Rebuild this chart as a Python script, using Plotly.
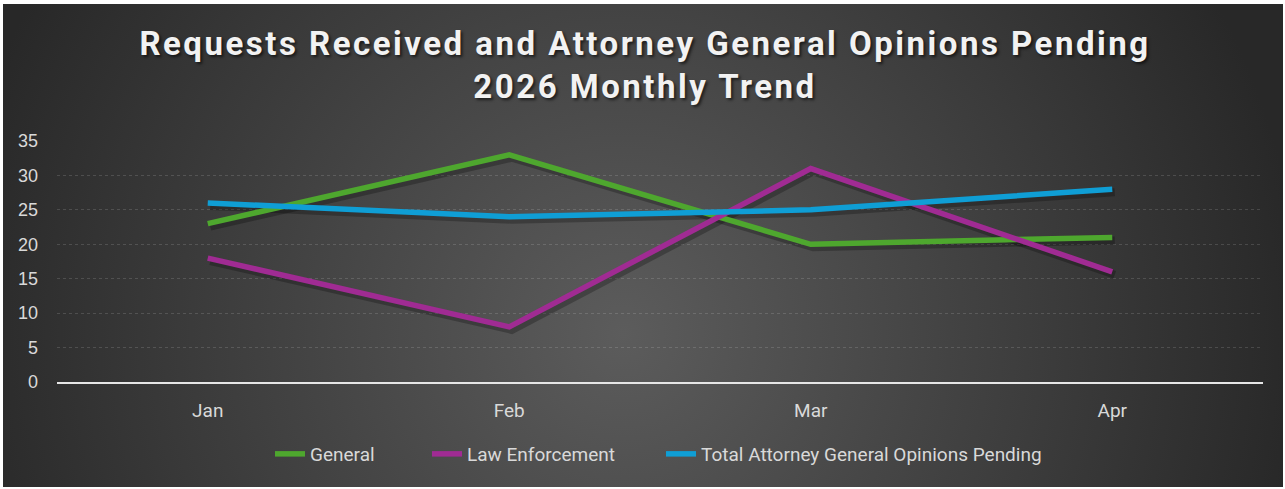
import base64
import plotly.graph_objects as go

# Monthly counts
months = ["Jan", "Feb", "Mar", "Apr"]
general = [23, 33, 20, 21]
law_enforcement = [18, 8, 31, 16]
total_pending = [26, 24, 25, 28]

series_names = ["General", "Law Enforcement", "Total Attorney General Opinions Pending"]
series_values = [general, law_enforcement, total_pending]
series_colors = ["#4EA72E", "#A02B93", "#0F9ED5"]

y_ticks = [0, 5, 10, 15, 20, 25, 30, 35]

W, H = 1285, 489
ML, MR, MT, MB = 57, 22, 141, 107
PW, PH = W - ML - MR, H - MT - MB

# dark radial backdrop for the chart card
svg = f"""<svg xmlns='http://www.w3.org/2000/svg' width='1280' height='483' viewBox='0 0 1280 483' preserveAspectRatio='none'>
<defs><radialGradient id='g' gradientUnits='userSpaceOnUse' cx='620' cy='330' r='680'>
<stop offset='0' stop-color='#5c5c5c'/><stop offset='1' stop-color='#282828'/>
</radialGradient></defs><rect width='1280' height='483' fill='url(#g)'/></svg>"""
bg_src = "data:image/svg+xml;base64," + base64.b64encode(svg.encode()).decode()

fig = go.Figure()

# soft drop shadows drawn on a slightly offset hidden axis pair
dx = 2.5 / (PW / 4)
dy = 3.0 / (PH / 35)
for vals in series_values:
    fig.add_trace(go.Scatter(
        x=months, y=vals, mode="lines", xaxis="x", yaxis="y",
        line=dict(color="rgba(0,0,0,0.25)", width=8), showlegend=False, hoverinfo="skip",
    ))

# one legend per series so each entry sits at its own spot
legend_text_x = [312, 469, 703]
legend_ids = ["legend", "legend2", "legend3"]

for name, vals, color, lid in zip(series_names, series_values, series_colors, legend_ids):
    fig.add_trace(go.Scatter(
        x=months, y=vals, mode="lines", name=name, xaxis="x2", yaxis="y2",
        line=dict(color=color, width=5.5), legend=lid,
    ))

tick_font = dict(family="Liberation Sans, Arial, sans-serif", size=18, color="#d9d9d9")
label_font = dict(family="Liberation Sans Narrow, Roboto, sans-serif", size=19, color="#d9d9d9")

legend_y = -(454 - (H - MB)) / PH
legends = {}
for lid, tx in zip(legend_ids, legend_text_x):
    legends[lid] = dict(
        orientation="h", x=(tx - 42 - ML) / PW, xanchor="left",
        y=legend_y, yanchor="middle",
        font=label_font, bgcolor="rgba(0,0,0,0)",
    )

fig.update_layout(
    width=W, height=H,
    margin=dict(l=ML, r=MR, t=MT, b=MB),
    paper_bgcolor="white",
    plot_bgcolor="rgba(0,0,0,0)",
    title=dict(
        text="Requests Received and Attorney General Opinions Pending<br>2026 Monthly Trend",
        x=645 / W, xref="container", xanchor="center",
        y=1 - 55 / H, yanchor="top", yref="container",
        font=dict(family="Roboto, sans-serif", size=33, weight="bold", color="#f2f2f2",
                  shadow="2px 2px 3px rgba(0,0,0,0.6)"),
    ),
    xaxis=dict(type="category", range=[-0.5 - dx, 3.5 - dx], visible=False),
    yaxis=dict(range=[0 + dy, 35 + dy], visible=False),
    xaxis2=dict(
        type="category", overlaying="x", range=[-0.5, 3.5],
        showline=True, linecolor="#e6e6e6", linewidth=2, showgrid=False,
        ticks="", tickfont=label_font, ticklabelstandoff=10, anchor="y2",
    ),
    yaxis2=dict(
        overlaying="y", range=[0, 35], tickvals=y_ticks, anchor="x2",
        showgrid=True, gridcolor="rgba(255,255,255,0.14)", gridwidth=1, griddash="dot",
        zeroline=False, showline=False, ticks="", tickfont=tick_font, ticklabelstandoff=18,
    ),
    images=[dict(
        source=bg_src, xref="paper", yref="paper",
        x=(3 - ML) / PW, y=(H - MB - 4) / PH,
        sizex=1280 / PW, sizey=483 / PH, sizing="stretch",
        xanchor="left", yanchor="top", layer="below",
    )],
    showlegend=True,
    **legends,
)

fig.write_html(
    "out.html",
    post_script="document.querySelectorAll('.gtitle').forEach(function(e){e.style.letterSpacing='2.5px';});",
)
